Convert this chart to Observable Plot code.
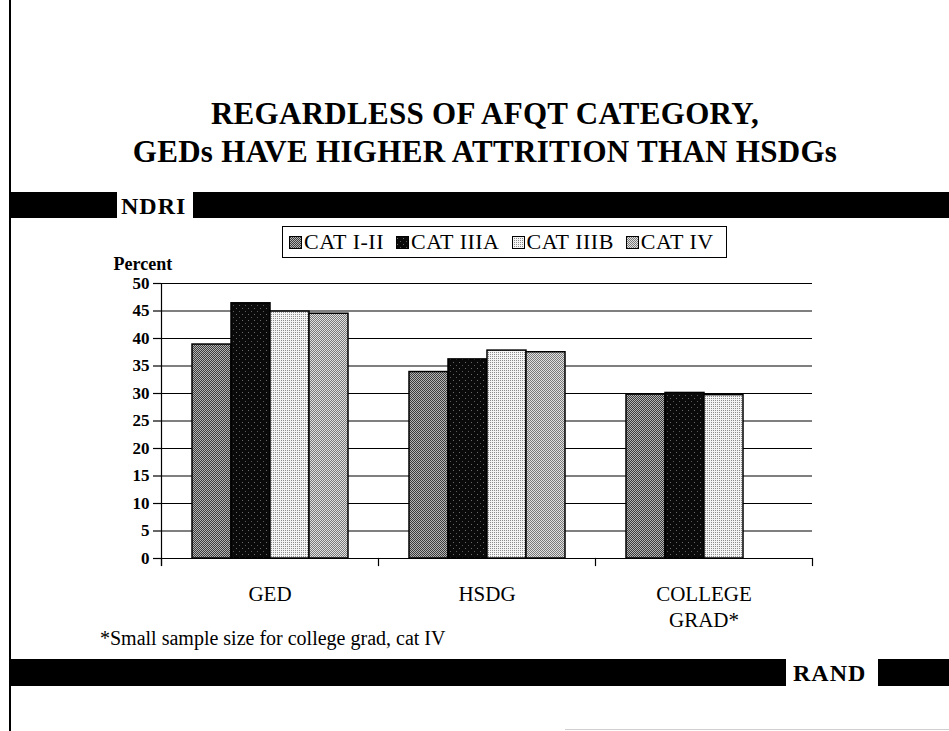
<!DOCTYPE html>
<html>
<head>
<meta charset="utf-8">
<script src="https://cdn.jsdelivr.net/npm/d3@7"></script>
<script src="https://cdn.jsdelivr.net/npm/@observablehq/plot@0.6"></script>
<style>
  html, body { margin: 0; padding: 0; background: #fff; }
  #page { position: relative; width: 949px; height: 731px; overflow: hidden; background: #fff; font-family: "Liberation Serif", serif; color: #000; }
  .abs { position: absolute; }
  #title { left: 0; width: 970px; top: 95px; text-align: center; font-size: 31px; font-weight: bold; line-height: 38px; letter-spacing: 0.3px; }
  .blk { position: absolute; background: #000; }
  .band-text { position: absolute; font-weight: bold; font-size: 24px; line-height: 26px; letter-spacing: 1px; white-space: nowrap; }
  #legend { position: absolute; left: 282px; top: 226px; width: 445px; height: 32px; box-sizing: border-box; border: 1.5px solid #000; font-size: 22px; letter-spacing: 0.5px; white-space: nowrap; z-index: 3; background: #fff; display: flex; align-items: center; padding-left: 6px; }
  #legend .item { display: flex; align-items: center; margin-right: 12px; }
  #legend svg { display: block; margin-right: 2px; }
  #foot { left: 100px; top: 627px; font-size: 20px; line-height: 22px; white-space: nowrap; }
  #chart { position: absolute; left: 0; top: 0; z-index: 1; }
  #chart svg { overflow: visible; }
  #chart g[aria-label="y-axis tick label"] { font-weight: bold; }
</style>
</head>
<body>
<svg width="0" height="0" style="position:absolute">
  <defs>
    <pattern id="pat-cat12" width="2" height="2" patternUnits="userSpaceOnUse" shape-rendering="crispEdges">
      <rect width="2" height="2" fill="#b4b4b4"/>
      <rect x="0" y="0" width="1" height="1" fill="#3c3c3c"/>
      <rect x="1" y="1" width="1" height="1" fill="#3c3c3c"/>
    </pattern>
    <pattern id="pat-cat3a" width="6" height="6" patternUnits="userSpaceOnUse" shape-rendering="crispEdges">
      <rect width="6" height="6" fill="#0a0a0a"/>
      <rect x="1" y="2" width="1" height="1" fill="#6a6a6a"/>
      <rect x="4" y="5" width="1" height="1" fill="#5a5a5a"/>
    </pattern>
    <pattern id="pat-cat3b" width="2" height="2" patternUnits="userSpaceOnUse" shape-rendering="crispEdges">
      <rect width="2" height="2" fill="#f4f4f4"/>
      <rect x="0" y="0" width="1" height="1" fill="#8c8c8c"/>
    </pattern>
    <pattern id="pat-cat4" width="2" height="2" patternUnits="userSpaceOnUse" shape-rendering="crispEdges">
      <rect width="2" height="2" fill="#e0e0e0"/>
      <rect x="0" y="0" width="1" height="1" fill="#7a7a7a"/>
      <rect x="1" y="1" width="1" height="1" fill="#7a7a7a"/>
    </pattern>
  </defs>
</svg>
<div id="page">
  <div class="blk" style="left:9px; top:0; width:2px; height:731px;"></div>
  <div class="abs" style="left:565px; top:729px; width:384px; height:1px; background:#cfcfcf;"></div>
  <div id="title" class="abs">REGARDLESS OF AFQT CATEGORY,<br>GEDs HAVE HIGHER ATTRITION THAN HSDGs</div>

  <div class="blk" style="left:11px; top:192px; width:106px; height:26px;"></div>
  <div class="band-text" id="ndri" style="left:121px; top:193px;">NDRI</div>
  <div class="blk" style="left:193px; top:192px; width:756px; height:26px;"></div>

  <div id="legend"></div>
  <div id="chart"></div>

  <div id="foot" class="abs">*Small sample size for college grad, cat IV</div>

  <div class="blk" style="left:11px; top:659px; width:775px; height:27px;"></div>
  <div class="band-text" id="rand" style="left:793px; top:660px;">RAND</div>
  <div class="blk" style="left:878px; top:659px; width:71px; height:27px;"></div>
</div>
<script>
// ---- data ----
const categories = ["GED", "HSDG", "COLLEGE GRAD*"];
const series = ["CAT I-II", "CAT IIIA", "CAT IIIB", "CAT IV"];
const gedValues = [38.9, 46.4, 44.9, 44.5];
const hsdgValues = [33.9, 36.2, 37.8, 37.5];
const collegeValues = [29.8, 30.1, 29.7, null]; // CAT IV not shown (small sample)
const yTicks = [0, 5, 10, 15, 20, 25, 30, 35, 40, 45, 50];
const seriesFills = ["url(#pat-cat12)", "url(#pat-cat3a)", "url(#pat-cat3b)", "url(#pat-cat4)"];

const rows = [];
[gedValues, hsdgValues, collegeValues].forEach((vals, i) => {
  vals.forEach((v, j) => {
    if (v != null) rows.push({category: categories[i], series: series[j], value: v});
  });
});

// ---- legend ----
const legend = document.getElementById("legend");
series.forEach((s, i) => {
  const item = document.createElement("div");
  item.className = "item";
  item.innerHTML = `<svg width="13" height="13"><rect x="0.5" y="0.5" width="12" height="12" fill="${seriesFills[i]}" stroke="#000" stroke-width="1"/></svg><span>${s}</span>`;
  legend.appendChild(item);
});

// ---- chart ----
const frameH = 558 - 283;
const chart = Plot.plot({
  width: 949,
  height: 680,
  marginTop: 283,
  marginBottom: 122,
  marginLeft: 160,
  marginRight: 136,
  style: {background: "transparent", fontFamily: "Liberation Serif, serif", color: "#000", overflow: "visible"},
  fx: {domain: categories, padding: 0, axis: null},
  x: {domain: series, paddingInner: 0, paddingOuter: 0.72, axis: null},
  y: {domain: [0, 50], axis: null},
  color: {domain: series, range: seriesFills},
  marks: [
    Plot.ruleY(yTicks, {stroke: "#000", strokeWidth: 1.2}),
    Plot.barY(rows, {fx: "category", x: "series", y: "value", fill: "series", stroke: "#000", strokeWidth: 1.5}),
    Plot.axisY({ticks: yTicks, tickSize: 8, tickPadding: 4, fontSize: 17, label: null, stroke: "#000", strokeWidth: 1.2}),
    Plot.frame({anchor: "left", facetAnchor: "left", insetBottom: -7, stroke: "#000", strokeWidth: 1.2}),
    Plot.frame({anchor: "left", insetTop: frameH, insetBottom: -7, stroke: "#000", strokeWidth: 1.2}),
    Plot.frame({anchor: "right", facetAnchor: "right", insetTop: frameH, insetBottom: -7, stroke: "#000", strokeWidth: 1.2}),
    Plot.text(["Percent"], {text: d => d, frameAnchor: "top-left", textAnchor: "start", lineAnchor: "middle", dx: -48, dy: -19, fontSize: 18, fontWeight: "bold", facetAnchor: "left"}),
    Plot.text(categories, {fx: d => d, text: d => d.replace(" ", "\n"), frameAnchor: "bottom", lineAnchor: "top", dy: 24, fontSize: 21, lineHeight: 1.24})
  ]
});
document.getElementById("chart").appendChild(chart);
</script>
</body>
</html>
